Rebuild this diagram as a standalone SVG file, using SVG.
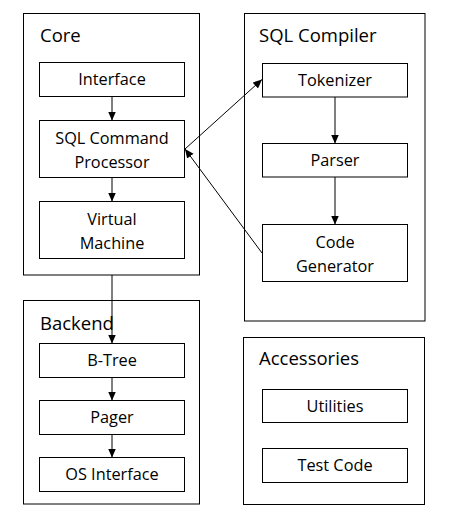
<svg xmlns="http://www.w3.org/2000/svg" width="449" height="517" viewBox="0 0 449 517">
<style>
rect{fill:#fff;stroke:#000;stroke-width:1}
text{font-family:"Open Sans","Noto Sans",sans-serif;fill:#000}
.t{font-size:18.5px}
.l{font-size:16.3px;text-anchor:middle}
.c line{stroke:#000;stroke-width:1;marker-end:url(#a)}
</style>
<defs>
<marker id="a" markerUnits="userSpaceOnUse" markerWidth="9" markerHeight="9" viewBox="0 0 9 9" refX="9" refY="4.5" orient="auto">
<path d="M0,0.5 L9,4.5 L0,8.5 z" fill="#000"/>
</marker>
</defs>
<rect width="449" height="517" style="stroke:none"/>
<g id="core">
<rect x="23.5" y="13.5" width="176" height="261.5"/>
<text class="t" x="40" y="42">Core</text>
</g>
<g id="interface"><rect x="39.5" y="62.5" width="145" height="34"/><text class="l" x="112" y="85">Interface</text></g>
<g id="processor"><rect x="39.5" y="120.5" width="145" height="57"/><text class="l" x="112" y="144">SQL Command</text><text class="l" x="112" y="168">Processor</text></g>
<g id="vm"><rect x="39.5" y="201.5" width="145" height="57"/><text class="l" x="112" y="224.5">Virtual</text><text class="l" x="112" y="248.5">Machine</text></g>
<g id="compiler">
<rect x="244.5" y="13.5" width="180.5" height="307.5"/>
<text class="t" x="259" y="42">SQL Compiler</text>
</g>
<g id="tokenizer"><rect x="262.5" y="63.5" width="145" height="33.5"/><text class="l" x="335" y="86">Tokenizer</text></g>
<g id="parser"><rect x="262.5" y="143.5" width="145" height="33.5"/><text class="l" x="335" y="166">Parser</text></g>
<g id="codegen"><rect x="262.5" y="224.5" width="145" height="57"/><text class="l" x="335" y="247.5">Code</text><text class="l" x="335" y="271.5">Generator</text></g>
<g id="backend">
<rect x="23.5" y="300.5" width="176" height="203.5"/>
<text class="t" x="40" y="330">Backend</text>
</g>
<g id="btree"><rect x="39.5" y="343.5" width="145" height="34"/><text class="l" x="112" y="366">B-Tree</text></g>
<g id="pager"><rect x="39.5" y="400.5" width="145" height="34"/><text class="l" x="112" y="423">Pager</text></g>
<g id="os"><rect x="39.5" y="457.5" width="145" height="34"/><text class="l" x="112" y="479.5">OS Interface</text></g>
<g id="accessories">
<rect x="243.5" y="337.5" width="181" height="167"/>
<text class="t" x="259" y="365">Accessories</text>
</g>
<g id="utilities"><rect x="262.5" y="389.5" width="145" height="33"/><text class="l" x="335" y="411.5">Utilities</text></g>
<g id="testcode"><rect x="262.5" y="448.5" width="145" height="34"/><text class="l" x="335" y="471">Test Code</text></g>
<g id="connectors" class="c">
<line x1="112" y1="97" x2="112" y2="120.5"/>
<line x1="112" y1="178" x2="112" y2="201.5"/>
<line x1="112" y1="275" x2="112" y2="343.5"/>
<line x1="112" y1="378" x2="112" y2="400.5"/>
<line x1="112" y1="435" x2="112" y2="457.5"/>
<line x1="335" y1="97" x2="335" y2="143.5"/>
<line x1="335" y1="177" x2="335" y2="224.5"/>
<line x1="185" y1="149" x2="262" y2="79.5"/>
<line x1="262" y1="253" x2="185" y2="149"/>
</g>
</svg>
